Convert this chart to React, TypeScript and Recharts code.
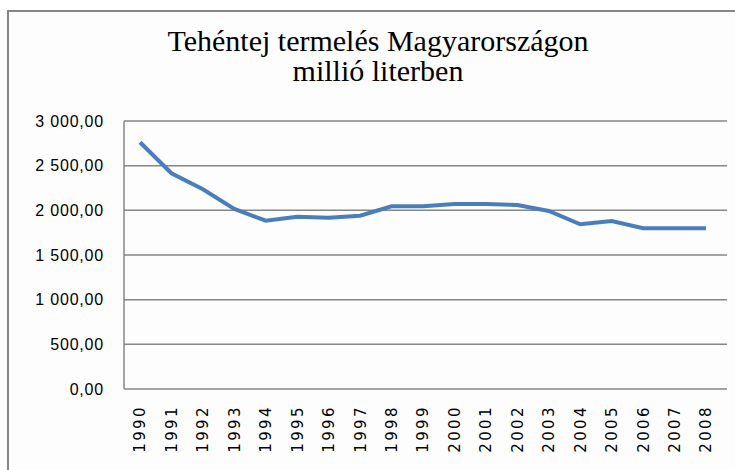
import { LineChart, Line, XAxis, YAxis, CartesianGrid } from 'recharts';

const years = [
  '1990', '1991', '1992', '1993', '1994', '1995', '1996', '1997', '1998', '1999',
  '2000', '2001', '2002', '2003', '2004', '2005', '2006', '2007', '2008',
];

// millió liter
const production = [
  2762, 2415, 2235, 2015, 1884, 1929, 1918, 1940, 2045, 2045,
  2071, 2071, 2060, 1993, 1844, 1881, 1799, 1799, 1799,
];

const yTicks = [0, 500, 1000, 1500, 2000, 2500, 3000];

const titleLines = ['Tehéntej termelés Magyarországon', 'millió literben'];

const data = years.map((year, i) => ({ year, value: production[i] }));

const formatHu = (n: number) => {
  const thousands = Math.floor(n / 1000);
  const rest = n % 1000;
  const body = thousands > 0 ? `${thousands} ${String(rest).padStart(3, '0')}` : String(rest);
  return `${body},00`;
};

const YearTick = (props: any) => {
  const { x, y, payload } = props;
  return (
    <g transform={`translate(${x},${y})`}>
      <text
        transform="rotate(-90)"
        textAnchor="end"
        dy="0.36em"
        fill="#000"
        fontSize={15}
        letterSpacing={2.4}
        fontFamily="DejaVu Sans, sans-serif"
      >
        {payload.value}
      </text>
    </g>
  );
};

export default function App() {
  return (
    <div
      style={{
        position: 'absolute',
        left: 0,
        top: 0,
        width: 735,
        height: 470,
        overflow: 'hidden',
        background: '#fff',
      }}
    >
      <div
        style={{
          position: 'absolute',
          left: 7,
          top: 10,
          width: 760,
          height: 480,
          border: '2px solid #868686',
          background: '#fdfdfd',
        }}
      />
      <div
        style={{
          position: 'absolute',
          left: 0,
          top: 26,
          width: 756,
          textAlign: 'center',
          fontFamily: '"Liberation Serif", serif',
          fontSize: 30,
          lineHeight: '30px',
          color: '#000',
        }}
      >
        {titleLines.map((t) => (
          <div key={t}>{t}</div>
        ))}
      </div>
      <div style={{ position: 'absolute', left: 0, top: 0 }}>
        <LineChart
          width={735}
          height={470}
          data={data}
          margin={{ top: 121, right: 8, bottom: 0, left: 0 }}
        >
          <CartesianGrid vertical={false} stroke="#868686" strokeWidth={1.5} />
          <XAxis
            dataKey="year"
            height={81}
            padding={{ left: 16, right: 21 }}
            axisLine={false}
            tickLine={false}
            tickSize={0}
            tickMargin={16}
            interval={0}
            tick={<YearTick />}
          />
          <YAxis
            width={124}
            domain={[0, 3000]}
            ticks={yTicks}
            tickFormatter={formatHu}
            axisLine={{ stroke: '#868686', strokeWidth: 1.5 }}
            tickLine={false}
            tickSize={0}
            tickMargin={20}
            tick={{ fill: '#000', fontSize: 16, letterSpacing: 0.8, fontFamily: '"Liberation Sans", sans-serif' }}
          />
          <Line
            type="linear"
            dataKey="value"
            stroke="#4a7ebb"
            strokeWidth={4}
            dot={false}
            activeDot={false}
            isAnimationActive={false}
          />
        </LineChart>
      </div>
    </div>
  );
}
